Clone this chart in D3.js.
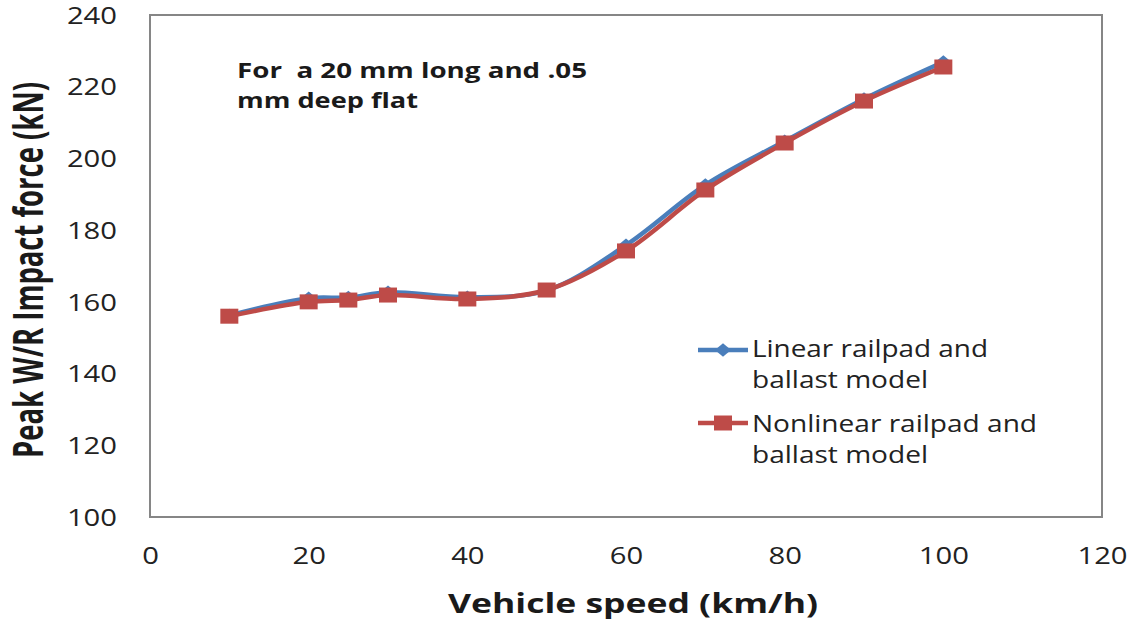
<!DOCTYPE html>
<html>
<head>
<meta charset="utf-8">
<script src="https://cdn.jsdelivr.net/npm/d3@7"></script>
<style>
  html, body { margin: 0; padding: 0; background: #fff; }
  svg { display: block; }
</style>
</head>
<body>
<svg id="chart" width="1135" height="630"></svg>
<script>
// Vehicle speeds (km/h)
const speeds = [10, 20, 25, 30, 40, 50, 60, 70, 80, 90, 100];
// Peak wheel/rail impact force (kN)
const linearForce = [156.2, 161.0, 161.2, 162.7, 161.3, 163.2, 175.8, 192.6, 204.8, 216.6, 226.9];
const nonlinearForce = [156.0, 160.0, 160.5, 161.9, 160.8, 163.3, 174.2, 191.2, 204.3, 216.0, 225.5];

const xTicks = [0, 20, 40, 60, 80, 100, 120];
const yTicks = [100, 120, 140, 160, 180, 200, 220, 240];

const seriesNames = [
  ["Linear railpad and", "ballast model"],
  ["Nonlinear railpad and", "ballast model"]
];
const noteLines = ["For  a 20 mm long and .05", "mm deep flat"];

const svg = d3.select("#chart");
const plot = { left: 150, right: 1102, top: 15, bottom: 517 };

const x = d3.scaleLinear().domain([0, 120]).range([plot.left, plot.right]);
const y = d3.scaleLinear().domain([100, 240]).range([plot.bottom, plot.top]);

const font = "'Open Sans', 'DejaVu Sans', sans-serif";
// Glyphs in this layout are drawn a little wider than the font's natural width
const digitWidth = 16.7;

// Plot frame
svg.append("rect")
  .attr("x", plot.left).attr("y", plot.top)
  .attr("width", plot.right - plot.left).attr("height", plot.bottom - plot.top)
  .attr("fill", "none").attr("stroke", "#868686").attr("stroke-width", 2);

// Axes (labels only, no tick marks)
const xAxis = svg.append("g")
  .attr("transform", `translate(0,${plot.bottom})`)
  .call(d3.axisBottom(x).tickValues(xTicks).tickSize(0).tickPadding(31));
const yAxis = svg.append("g")
  .attr("transform", `translate(${plot.left},0)`)
  .call(d3.axisLeft(y).tickValues(yTicks).tickSize(0).tickPadding(33));
[xAxis, yAxis].forEach(g => {
  g.select(".domain").remove();
  g.selectAll("text")
    .attr("font-family", font).attr("font-size", 23).attr("fill", "#222")
    .attr("lengthAdjust", "spacingAndGlyphs")
    .attr("textLength", function () { return this.textContent.length * digitWidth; });
});
yAxis.selectAll("text").attr("dy", "0.36em");

// Axis titles
svg.append("text")
  .attr("x", 633).attr("y", 613)
  .attr("text-anchor", "middle")
  .attr("font-family", font).attr("font-weight", "bold").attr("font-size", 26)
  .attr("textLength", 370).attr("lengthAdjust", "spacingAndGlyphs")
  .attr("fill", "#1a1a1a")
  .text("Vehicle speed (km/h)");

svg.append("text")
  .attr("transform", "translate(43,270) rotate(-90) scale(1,1.35)")
  .attr("text-anchor", "middle")
  .attr("font-family", font).attr("font-weight", "bold").attr("font-size", 31)
  .attr("textLength", 376).attr("lengthAdjust", "spacingAndGlyphs")
  .attr("fill", "#1a1a1a")
  .text("Peak W/R Impact force (kN)");

// Annotation
const noteWidths = [350, 181];
svg.append("text")
  .attr("font-family", font).attr("font-weight", "bold").attr("font-size", 21)
  .attr("fill", "#1a1a1a")
  .style("white-space", "pre")
  .selectAll("tspan").data(noteLines).join("tspan")
  .attr("x", 237).attr("y", (d, i) => 78 + i * 30)
  .attr("textLength", (d, i) => noteWidths[i])
  .attr("lengthAdjust", "spacingAndGlyphs")
  .text(d => d);

const colors = ["#4A7EBB", "#BE4B48"];
const data = [linearForce, nonlinearForce];

const line = d3.line()
  .x((d, i) => x(speeds[i]))
  .y(d => y(d))
  .curve(d3.curveCatmullRom.alpha(0.5));

const diamond = d3.symbol().type(d3.symbolDiamond2).size(115);
const square = d3.symbol().type(d3.symbolSquare).size(225);
const markerScale = "scale(1.2,1)";

data.forEach((vals, k) => {
  svg.append("path")
    .datum(vals)
    .attr("d", line)
    .attr("fill", "none")
    .attr("stroke", colors[k])
    .attr("stroke-width", 4.5)
    .attr("stroke-linejoin", "round");
});

data.forEach((vals, k) => {
  svg.append("g").selectAll("path")
    .data(vals).join("path")
    .attr("transform", (d, i) => `translate(${x(speeds[i])},${y(d)}) ${markerScale}`)
    .attr("d", k === 0 ? diamond : square)
    .attr("fill", colors[k]);
});

// Legend
const legendY = [350, 423];
const legendWidths = [[236, 176], [285, 176]];
seriesNames.forEach((lines, k) => {
  const g = svg.append("g").attr("transform", `translate(0,${legendY[k]})`);
  g.append("line")
    .attr("x1", 698).attr("x2", 748).attr("y1", 0).attr("y2", 0)
    .attr("stroke", colors[k]).attr("stroke-width", 4.5);
  g.append("path")
    .attr("transform", `translate(723,0) ${markerScale}`)
    .attr("d", k === 0 ? diamond : square)
    .attr("fill", colors[k]);
  g.append("text")
    .attr("font-family", font).attr("font-size", 24).attr("fill", "#222")
    .selectAll("tspan").data(lines).join("tspan")
    .attr("x", 752).attr("y", (d, i) => (k === 0 ? 7 : 9) + i * 31)
    .attr("textLength", (d, i) => legendWidths[k][i])
    .attr("lengthAdjust", "spacingAndGlyphs")
    .text(d => d);
});
</script>
</body>
</html>
